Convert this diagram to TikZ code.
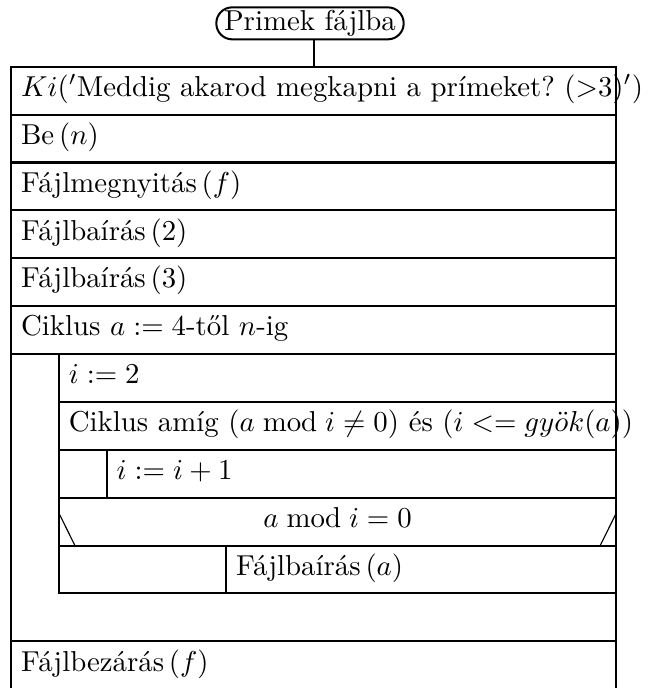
\documentclass[tikz,border=0pt]{standalone}
\usepackage{fontspec}
\usetikzlibrary{calc}
\tikzset{
  sor/.style={draw, rectangle, anchor=north west, align=left, inner xsep=3.5pt, inner ysep=0pt,
    outer sep=0pt, minimum height=16.62pt, text height=7pt, text depth=3pt},
  cimke/.style={draw, rounded corners=5.5pt, inner xsep=2.7pt, inner ysep=0pt, outer sep=0pt,
    minimum height=11.1pt}
}
\begin{document}
\begin{tikzpicture}[line width=0.7pt]
\useasboundingbox (0,0) rectangle (226pt,-238.8pt);
\node[cimke] (cim) at (107.6pt,-8.1pt) {Primek fájlba};
\node[sor, text width=203.1pt] (ki) at (3.82pt,-23.16pt) {\mbox{$Ki('$Meddig akarod megkapni a prímeket?\ (>3)$'$)}};
\node[sor, text width=203.1pt] (be) at (ki.south west) {Be\,($n$)};
\node[sor, text width=203.1pt] (nyit) at (be.south west) {Fájlmegnyitás\,($f$)};
\node[sor, text width=203.1pt] (ir2) at (nyit.south west) {Fájlbaírás\,(2)};
\node[sor, text width=203.1pt] (ir3) at (ir2.south west) {Fájlbaírás\,(3)};
\node[sor, text width=203.1pt] (ciklus) at (ir3.south west) {Ciklus $a:=4$-től $n$-ig};
\node[sor, text width=186.5pt] (i2) at ([xshift=16.6pt]ciklus.south west) {$i:=2$};
\node[sor, text width=186.5pt] (amig) at (i2.south west) {\mbox{Ciklus amíg $(a \bmod i\neq 0)$ és $(i<=gy\ddot{o}k(a))$}};
\node[sor, text width=169.9pt] (novel) at ([xshift=16.6pt]amig.south west) {$i:=i+1$};
\draw (amig.south west) -- (amig.south west |- novel.south);
\node[sor, text width=186.5pt, align=center] (felt) at (amig.south west |- novel.south) {\mbox{$a \bmod i=0$}};
\draw[line width=0.4pt] ($(felt.south west)+(5.6pt,0)$) -- ($(felt.south west)!0.68!(felt.north west)$);
\draw[line width=0.4pt] ($(felt.south east)+(-5.6pt,0)$) -- ($(felt.south east)!0.68!(felt.north east)$);
\node[sor, text width=51pt] (nem) at (felt.south west) {};
\node[sor, text width=128.5pt] (igen) at (nem.north east) {Fájlbaírás\,($a$)};
\node[sor, text width=203.1pt] (zaras) at ($(ciklus.south west |- nem.south)+(0,-16.62pt)$) {Fájlbezárás\,($f$)};
\draw (ciklus.south west) -- (zaras.north west);
\draw (igen.south east) -- (zaras.north east);
\draw (cim.south -| ki.north) -- (ki.north);
\end{tikzpicture}
\end{document}
